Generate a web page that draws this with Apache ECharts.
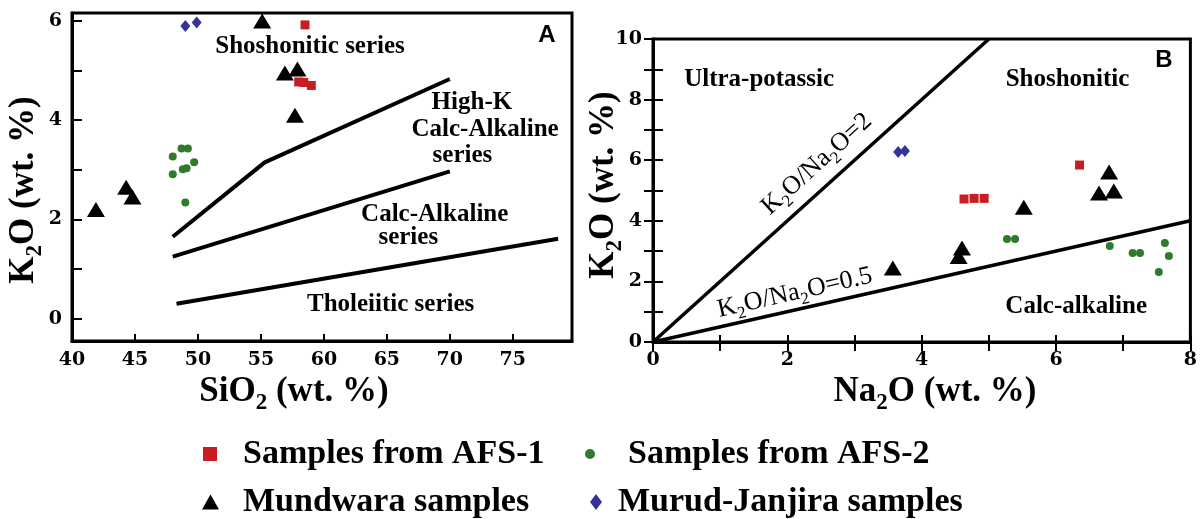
<!DOCTYPE html>
<html>
<head>
<meta charset="utf-8">
<title>K2O classification diagrams</title>
<script src="https://cdn.jsdelivr.net/npm/echarts@6/dist/echarts.min.js"></script>
<style>
  html, body { margin: 0; padding: 0; background: #fff; }
  #chart { width: 1200px; height: 519px; }
</style>
</head>
<body>
<div id="chart"></div>
<script>
// ---------- Panel A: K2O vs SiO2 (wt. %) ----------
const afs1A = [[58.5, 5.92], [58.0, 4.77], [58.4, 4.76], [59.0, 4.70]];
const afs2A = [[48.0, 3.27], [48.7, 3.43], [49.2, 3.43], [48.0, 2.91], [48.8, 3.01], [49.1, 3.03], [49.7, 3.15], [49.0, 2.34]];
const mundwaraA = [[41.9, 2.2], [44.3, 2.65], [44.8, 2.45], [55.1, 6.0], [56.9, 4.95], [57.9, 5.03], [57.7, 4.1]];
const murudA = [[49.0, 5.9], [49.9, 5.97]];

// series boundaries (SiO2, K2O)
const shoshoniteBoundary = [[48, 1.65], [55.3, 3.15], [70, 4.83]];
const highKBoundary = [[48, 1.25], [70, 2.97]];
const tholeiiticBoundary = [[48.3, 0.30], [78.6, 1.61]];

const siO2Labels = [40, 45, 50, 55, 60, 65, 70, 75];
const siO2Ticks = [45, 50, 55, 60, 65, 70, 75];
const k2oLabelsA = [0, 2, 4, 6];
const k2oTicksA = [0, 1, 2, 3, 4, 5, 6];

// ---------- Panel B: K2O vs Na2O (wt. %) ----------
const afs1B = [[4.63, 4.72], [4.78, 4.74], [4.93, 4.74], [6.35, 5.84]];
const afs2B = [[5.27, 3.4], [5.39, 3.4], [6.8, 3.17], [7.14, 2.94], [7.25, 2.94], [7.62, 3.27], [7.68, 2.84], [7.53, 2.31]];
const mundwaraB = [[3.57, 2.44], [4.55, 2.82], [4.6, 3.1], [5.52, 4.45], [6.64, 4.92], [6.79, 5.61], [6.86, 4.98]];
const murudB = [[3.65, 6.27], [3.75, 6.3]];

// K2O/Na2O ratio lines through the origin
const ratioValues = [2, 0.5];

const na2oLabels = [0, 2, 4, 6, 8];
const na2oTicks = [0, 1, 2, 3, 4, 5, 6, 7, 8];
const k2oLabelsB = [0, 2, 4, 6, 8, 10];
const k2oTicksB = [0, 1, 2, 3, 4, 5, 6, 7, 8, 9, 10];

// ---------- names ----------
const NAME_AFS1 = 'Samples from AFS-1';
const NAME_AFS2 = 'Samples from AFS-2';
const NAME_MUND = 'Mundwara samples';
const NAME_MURUD = 'Murud-Janjira samples';

const SERIF = '"Liberation Serif", "Times New Roman", "DejaVu Serif", serif';
const WIDE_SERIF = '"DejaVu Serif", "Liberation Serif", serif';
const SANS = '"Liberation Sans", Arial, "DejaVu Sans", sans-serif';

const RED = '#c81e22';
const GREEN = '#2f7a2c';
const BLUE = '#33339a';

function ratioLine(r) {
  const xEnd = Math.min(8, 10 / r);
  return [[0, 0], [xEnd, r * xEnd]];
}

function sampleSeries(xi, yi, a1, a2, m, mj) {
  return [
    { name: NAME_AFS1, type: 'scatter', xAxisIndex: xi, yAxisIndex: yi, data: a1,
      symbol: 'rect', symbolSize: 9, itemStyle: { color: RED, opacity: 1 }, z: 5 },
    { name: NAME_AFS2, type: 'scatter', xAxisIndex: xi, yAxisIndex: yi, data: a2,
      symbol: 'circle', symbolSize: 8, itemStyle: { color: GREEN, opacity: 1 }, z: 5 },
    { name: NAME_MUND, type: 'scatter', xAxisIndex: xi, yAxisIndex: yi, data: m,
      symbol: 'triangle', symbolSize: [18, 15], itemStyle: { color: '#000', opacity: 1 }, z: 5 },
    { name: NAME_MURUD, type: 'scatter', xAxisIndex: xi, yAxisIndex: yi, data: mj,
      symbol: 'diamond', symbolSize: [10, 12], itemStyle: { color: BLUE, opacity: 1 }, z: 5 }
  ];
}

function boundary(xi, yi, data, width) {
  return { type: 'line', xAxisIndex: xi, yAxisIndex: yi, data: data, symbol: 'none',
    silent: true, lineStyle: { color: '#000', width: width }, z: 3 };
}

const tickLabelStyle = { color: '#000', fontFamily: WIDE_SERIF, fontWeight: 'bold', fontSize: 19 };
const axisLineStyle = { show: true, onZero: false, lineStyle: { color: '#000', width: 3 } };

function mirrorAxis(base) {
  return Object.assign({}, base, {
    axisLabel: { show: false },
    axisLine: { show: false }
  });
}

const xAxisB = {
  type: 'value', gridIndex: 1, min: 0, max: 8, interval: 1, position: 'bottom',
  axisLine: axisLineStyle, splitLine: { show: false },
  axisTick: { inside: true, length: 7, lineStyle: { color: '#000', width: 2 }, customValues: na2oTicks },
  axisLabel: Object.assign({ margin: 9, customValues: na2oLabels }, tickLabelStyle)
};
const yAxisB = {
  type: 'value', gridIndex: 1, min: 0, max: 10, interval: 1, position: 'left',
  axisLine: axisLineStyle, splitLine: { show: false },
  axisTick: { inside: true, length: 10, lineStyle: { color: '#000', width: 2 }, customValues: k2oTicksB },
  axisLabel: Object.assign({ margin: 11, customValues: k2oLabelsB }, tickLabelStyle)
};

// one legend block per entry so the two columns line up
const legendItems = [
  { name: NAME_AFS1, icon: 'rect', w: 14, h: 14, left: 203, top: 437, pad: 21 },
  { name: NAME_AFS2, icon: 'circle', w: 10, h: 10, left: 585, top: 437, pad: 28 },
  { name: NAME_MUND, icon: 'triangle', w: 17, h: 15, left: 202, top: 485, pad: 19 },
  { name: NAME_MURUD, icon: 'diamond', w: 12, h: 16, left: 590, top: 485, pad: 11 }
];

const option = {
  backgroundColor: '#fff',
  animation: false,
  grid: [
    { left: 72, top: 13, width: 500, height: 328, show: true, borderColor: '#000', borderWidth: 3, containLabel: false },
    { left: 653, top: 39, width: 542, height: 303, show: true, borderColor: '#000', borderWidth: 3, containLabel: false }
  ],
  xAxis: [
    {
      type: 'value', gridIndex: 0, min: 40, max: 79.7, interval: 5,
      axisLine: axisLineStyle, splitLine: { show: false },
      axisTick: { inside: true, length: 7, lineStyle: { color: '#000', width: 2 }, customValues: siO2Ticks },
      axisLabel: Object.assign({ margin: 10, customValues: siO2Labels }, tickLabelStyle)
    },
    xAxisB,
    Object.assign(mirrorAxis(xAxisB), { position: 'top', axisTick: { inside: true, length: 9, lineStyle: { color: '#000', width: 2 }, customValues: na2oTicks } })
  ],
  yAxis: [
    {
      type: 'value', gridIndex: 0, min: -0.45, max: 6.16,
      axisLine: axisLineStyle, splitLine: { show: false },
      axisTick: { inside: true, length: 10, lineStyle: { color: '#000', width: 2 }, customValues: k2oTicksA },
      axisLabel: Object.assign({ margin: 10, customValues: k2oLabelsA }, tickLabelStyle)
    },
    yAxisB,
    Object.assign(mirrorAxis(yAxisB), { position: 'right', axisTick: { inside: true, length: 9, lineStyle: { color: '#000', width: 2 }, customValues: k2oTicksB } })
  ],
  legend: legendItems.map(it => ({
    data: [it.name], icon: it.icon, itemWidth: it.w, itemHeight: it.h,
    left: it.left, top: it.top, padding: 0, selectedMode: false,
    textStyle: { color: '#000', fontFamily: SERIF, fontWeight: 'bold', fontSize: 34, padding: [0, 0, 0, it.pad] }
  })),
  series: [
    boundary(0, 0, shoshoniteBoundary, 4),
    boundary(0, 0, highKBoundary, 4),
    boundary(0, 0, tholeiiticBoundary, 4),
    ...ratioValues.map(r => boundary(1, 1, ratioLine(r), 3.5)),
    ...sampleSeries(0, 0, afs1A, afs2A, mundwaraA, murudA),
    ...sampleSeries(1, 1, afs1B, afs2B, mundwaraB, murudB)
  ]
};

const chart = echarts.init(document.getElementById('chart'));
chart.setOption(option);

// ---------- text annotations ----------
// "_2" marks a subscript digit
function subText(str) {
  return str.split(/(_\d)/).filter(Boolean)
    .map(p => p[0] === '_' ? '{s|' + p.slice(1) + '}' : '{n|' + p + '}').join('');
}
function richStyle(size, weight) {
  return {
    n: { fontSize: size, fontFamily: SERIF, fontWeight: weight, lineHeight: Math.round(size * 1.3) },
    s: { fontSize: Math.round(size * 0.65), fontFamily: SERIF, fontWeight: weight,
         lineHeight: Math.round(size * 0.8), verticalAlign: 'bottom' }
  };
}
function textEl(str, pos, size, weight, rotation) {
  return {
    type: 'text', x: pos[0], y: pos[1], rotation: rotation || 0, z: 100, silent: true,
    style: { text: subText(str), rich: richStyle(size, weight), fill: '#000', align: 'center', verticalAlign: 'middle' }
  };
}

const pA = v => chart.convertToPixel({ xAxisIndex: 0, yAxisIndex: 0 }, v);
const pB = v => chart.convertToPixel({ xAxisIndex: 1, yAxisIndex: 1 }, v);

const regionLabelsA = [
  ['Shoshonitic series', [58.9, 5.49]],
  ['High-K', [71.75, 4.36]],
  ['Calc-Alkaline', [72.8, 3.82]],
  ['series', [71.0, 3.29]],
  ['Calc-Alkaline', [68.8, 2.10]],
  ['series', [66.7, 1.64]],
  ['Tholeiitic series', [65.3, 0.28]]
];
const regionLabelsB = [
  ['Ultra-potassic', [1.58, 8.65]],
  ['Shoshonitic', [6.17, 8.65]],
  ['Calc-alkaline', [6.30, 1.16]]
];
const ratioLabelAnchors = [[2.44, 5.87], [2.11, 1.62]];

const graphics = [];
regionLabelsA.forEach(([t, c]) => graphics.push(textEl(t, pA(c), 25, 'bold')));
regionLabelsB.forEach(([t, c]) => graphics.push(textEl(t, pB(c), 25, 'bold')));

ratioValues.forEach((r, i) => {
  const p0 = pB([0, 0]);
  const p1 = pB([1, r]);
  const angle = Math.atan2(p0[1] - p1[1], p1[0] - p0[0]);
  graphics.push(textEl('K_2O/Na_2O=' + r, pB(ratioLabelAnchors[i]), 26, 'normal', angle));
});

// axis titles
graphics.push(textEl('K_2O (wt. %)', [24, 190], 35, 'bold', Math.PI / 2));
graphics.push(textEl('SiO_2 (wt. %)', [294, 392], 35, 'bold'));
graphics.push(textEl('K_2O (wt. %)', [604, 185], 35, 'bold', Math.PI / 2));
graphics.push(textEl('Na_2O (wt. %)', [935, 392], 35, 'bold'));

// panel letters
graphics.push({ type: 'text', x: 547, y: 35, z: 100, silent: true,
  style: { text: 'A', fontFamily: SANS, fontWeight: 'bold', fontSize: 24, fill: '#000', align: 'center', verticalAlign: 'middle' } });
graphics.push({ type: 'text', x: 1164, y: 60, z: 100, silent: true,
  style: { text: 'B', fontFamily: SANS, fontWeight: 'bold', fontSize: 24, fill: '#000', align: 'center', verticalAlign: 'middle' } });

chart.setOption({ graphic: graphics });
</script>
</body>
</html>
